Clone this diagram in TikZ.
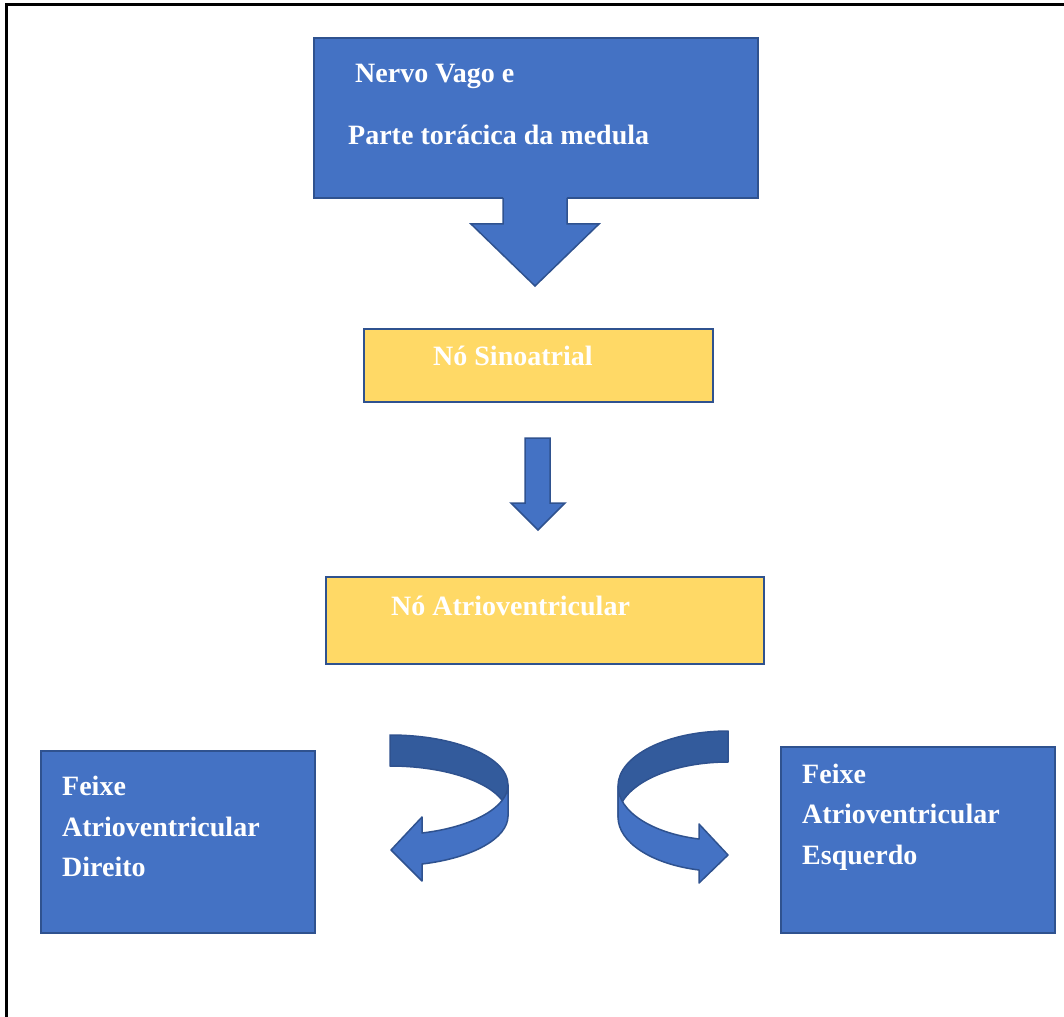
\documentclass[tikz,border=0pt]{standalone}
\usepackage{fontspec}
\setmainfont{Liberation Serif}
\usetikzlibrary{positioning}
\definecolor{boxblue}{HTML}{4472C4}
\definecolor{edgeblue}{HTML}{2F528F}
\definecolor{backblue}{HTML}{335B9C}
\definecolor{nodeyellow}{HTML}{FFD966}

\begin{document}
\begin{tikzpicture}[x=1pt, y=-1pt,
    bluebox/.style={draw=edgeblue, fill=boxblue, line width=2pt, anchor=north west, inner sep=0pt},
    yellowbox/.style={draw=edgeblue, fill=nodeyellow, line width=2pt, anchor=north west, inner sep=0pt},
    lbl/.style={text=white, anchor=base west, inner sep=0pt, font=\fontsize{28}{34}\selectfont\bfseries},
    blockarrow/.style={fill=boxblue},
    blockedge/.style={draw=edgeblue, line width=1.5pt, line join=miter},
    ribbonfront/.style={fill=boxblue, draw=edgeblue, line width=1.5pt, line join=round},
    ribbonback/.style={fill=backblue, draw=edgeblue, line width=1.5pt, line join=round}]

            \useasboundingbox (0,0) rectangle (1064,1016);
            \draw[line width=3pt] (6,1020) -- (6,5) -- (1070,5);

            % boxes
            \node[bluebox, minimum width=444, minimum height=160] (vago) at (313,37) {};
            \node[yellowbox, minimum width=349, minimum height=73] (sinoatrial) at (363,328) {};
            \node[yellowbox, minimum width=438, minimum height=87] (atrioventricular) at (325,576) {};
            \node[bluebox, minimum width=274, minimum height=182] (direito) at (40,750) {};
            \node[bluebox, minimum width=274, minimum height=186] (esquerdo) at (780,746) {};

            % texts
            \node[lbl] (vagoA) at (355,83) {Nervo Vago e};
            \node[lbl] (vagoB) at (348,145) {Parte torácica da medula};
            \node[lbl] (sinoatrialA) at (433,365) {Nó Sinoatrial};
            \node[lbl] (atrioventricularA) at (391,615) {Nó Atrioventricular};
            \node[lbl] (direitoA) at (62,795) {Feixe};
            \node[lbl] (direitoB) at (62,836) {Atrioventricular};
            \node[lbl] (direitoC) at (62,876) {Direito};
            \node[lbl] (esquerdoA) at (802,783) {Feixe};
            \node[lbl] (esquerdoB) at (802,823) {Atrioventricular};
            \node[lbl] (esquerdoC) at (802,864) {Esquerdo};

            % big arrow under the top box
            \fill[blockarrow] (503,194) -- (503,224) -- (471,224) -- (535,286) -- (599,224) -- (567,224) -- (567,194) -- cycle;
            \draw[blockedge] (503,198) -- (503,224) -- (471,224) -- (535,286) -- (599,224) -- (567,224) -- (567,198);

            % small arrow
            \draw[blockarrow, blockedge] (525,438) -- (525,503) -- (511,503) -- (538,530) -- (565,503) -- (550,503) -- (550,438) -- cycle;

            % curved arrow to the left
            \draw[ribbonback] (390,735) .. controls (455,735) and (508,757) .. (508,785)
                -- (508,816) .. controls (508,788) and (455,766) .. (390,766) -- cycle;
            \draw[ribbonfront] (508,785) .. controls (508,807) and (473,827) .. (422,833)
                -- (422,817) -- (391,850) -- (422,881) -- (422,864)
                .. controls (473,858) and (508,838) .. (508,816) -- cycle;

            % curved arrow to the right
            \draw[ribbonback] (728,731) .. controls (667,731) and (618,756) .. (618,786)
                -- (618,817) .. controls (618,787) and (667,762) .. (728,762) -- cycle;
            \draw[ribbonfront] (618,786) .. controls (618,811) and (651,833) .. (699,839)
                -- (699,824) -- (728,855) -- (699,883) -- (699,870)
                .. controls (651,864) and (618,842) .. (618,817) -- cycle;

        \end{tikzpicture}
\end{document}
